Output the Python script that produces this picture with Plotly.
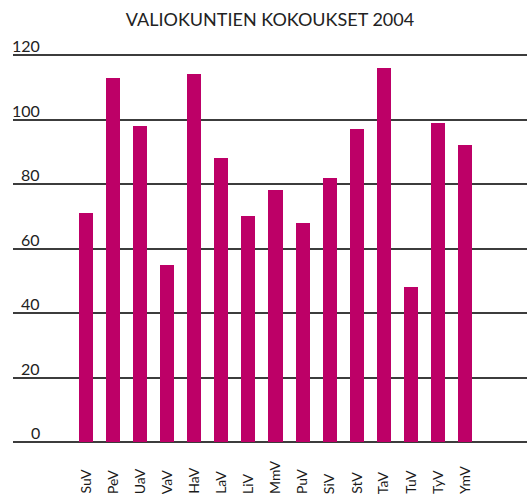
import plotly.graph_objects as go

title = "VALIOKUNTIEN KOKOUKSET 2004"
categories = ["SuV", "PeV", "UaV", "VaV", "HaV", "LaV", "LiV", "MmV",
              "PuV", "SiV", "StV", "TaV", "TuV", "TyV", "YmV"]
meetings = [71, 113, 98, 55, 114, 88, 70, 78, 68, 82, 97, 116, 48, 99, 92]
y_ticks = [0, 20, 40, 60, 80, 100, 120]

BAR = "#bd0067"
FONT = "Lato, 'Open Sans', sans-serif"

idx = list(range(len(categories)))

fig = go.Figure()
fig.add_trace(go.Bar(x=idx, y=meetings, marker_color=BAR, marker_line_width=0,
                     width=0.52, hoverinfo="skip"))

annotations = []
for v in y_ticks:
    annotations.append(dict(x=-1.63, y=v, xref="x", yref="y", text=str(v),
                            showarrow=False, xanchor="right", yanchor="bottom",
                            yshift=-2, font=dict(family=FONT, size=16, color="#222")))
for i, c in zip(idx, categories):
    annotations.append(dict(x=i, y=-51 / 394, xref="x", yref="paper", text=c,
                            showarrow=False, textangle=-90, xanchor="center",
                            yanchor="bottom", xshift=-1,
                            font=dict(family=FONT, size=14, color="#1a1a1a")))

fig.update_layout(
    width=527, height=494,
    margin=dict(l=13, r=0, t=51, b=49),
    paper_bgcolor="white", plot_bgcolor="white",
    showlegend=False,
    title=dict(text=title, x=0.5, xref="paper", xanchor="center",
               y=1 - 20 / 494, yref="container", yanchor="middle",
               font=dict(family=FONT, size=18, color="#222")),
    xaxis=dict(range=[-2.697, 16.29], showgrid=False, zeroline=False,
               showticklabels=False, ticks="", showline=False),
    yaxis=dict(range=[-0.93, 121.24], tickvals=y_ticks, showgrid=True,
               gridcolor="#3c3c3c", gridwidth=1.5, zeroline=False,
               showticklabels=False, ticks="", showline=False),
    annotations=annotations,
    shapes=[dict(type="line", xref="x", yref="y", x0=-0.52, x1=14.59, y0=0, y1=0,
                 line=dict(color="#111", width=2), layer="below")],
    bargap=0,
)

fig.write_html("out.html", config={"displayModeBar": False},
               post_script="document.body.style.margin='0';document.body.style.overflow='hidden';")
